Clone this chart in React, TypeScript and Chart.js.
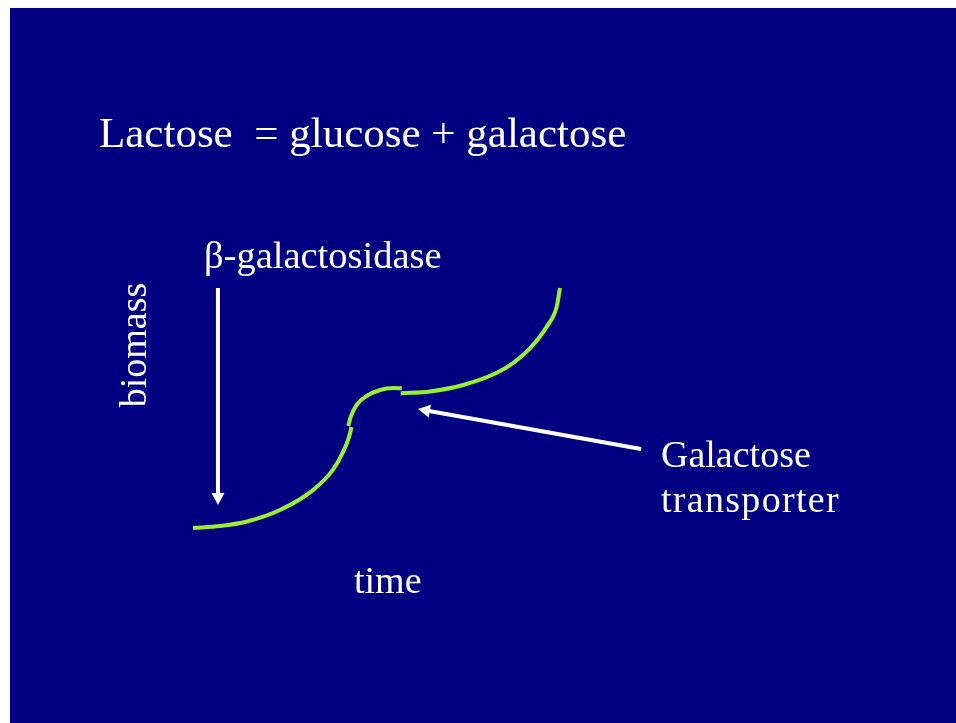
import React, { useEffect, useRef } from "react";
import { Chart, registerables } from "chart.js";

Chart.register(...registerables);

// Growth curve (arbitrary units: time 0–10, biomass 0–10)
const glucosePhaseTime = [0, 0.74, 1.47, 2.37, 3.27, 3.81, 4.09, 4.25, 4.32];
const glucosePhaseBiomass = [0, 0.08, 0.27, 0.75, 1.58, 2.42, 3.17, 3.79, 4.21];

const shiftPhaseTime = [4.23, 4.3, 4.46, 4.73, 5.1, 5.46, 5.69];
const shiftPhaseBiomass = [4.25, 4.64, 5.13, 5.5, 5.75, 5.83, 5.82];

const galactosePhaseTime = [5.66, 6.46, 7.36, 8.28, 8.73, 9.18, 9.64, 9.91, 10];
const galactosePhaseBiomass = [5.61, 5.69, 5.96, 6.47, 6.88, 7.48, 8.39, 9.22, 10];

// Arrows in data units: [fromTime, fromBiomass, toTime, toBiomass]
const enzymeArrow = [0.68, 10, 0.68, 0.96];
const transporterArrow = [12.21, 3.29, 6.13, 4.96];

// Texts
const titleText = "Lactose  = glucose + galactose";
const enzymeLabel = "β-galactosidase";
const yAxisLabel = "biomass";
const xAxisLabel = "time";
const transporterLabel = ["Galactose", "transporter"];

const NAVY = "#000080";
const CURVE = "#99f033";
const FONT = '"Liberation Serif", "Times New Roman", serif';

function toPoints(xs: number[], ys: number[]) {
  return xs.map((x, i) => ({ x, y: ys[i] }));
}

const annotationPlugin = {
  id: "slideAnnotations",
  afterDatasetsDraw(chart: any) {
    const ctx = chart.ctx as CanvasRenderingContext2D;
    const xs = chart.scales.x;
    const ys = chart.scales.y;

    const drawArrow = (a: number[]) => {
      const x1 = xs.getPixelForValue(a[0]);
      const y1 = ys.getPixelForValue(a[1]);
      const x2 = xs.getPixelForValue(a[2]);
      const y2 = ys.getPixelForValue(a[3]);
      const ang = Math.atan2(y2 - y1, x2 - x1);
      const headLen = 12;
      const headHalf = 6.5;
      const bx = x2 - headLen * Math.cos(ang);
      const by = y2 - headLen * Math.sin(ang);
      ctx.save();
      ctx.strokeStyle = "#ffffff";
      ctx.fillStyle = "#ffffff";
      ctx.lineWidth = 4;
      ctx.beginPath();
      ctx.moveTo(x1, y1);
      ctx.lineTo(bx + 2 * Math.cos(ang), by + 2 * Math.sin(ang));
      ctx.stroke();
      ctx.beginPath();
      ctx.moveTo(x2, y2);
      ctx.lineTo(bx + headHalf * Math.sin(ang), by - headHalf * Math.cos(ang));
      ctx.lineTo(bx - headHalf * Math.sin(ang), by + headHalf * Math.cos(ang));
      ctx.closePath();
      ctx.fill();
      ctx.restore();
    };

    drawArrow(enzymeArrow);
    drawArrow(transporterArrow);

    ctx.save();
    ctx.fillStyle = "#ffffff";
    ctx.textBaseline = "alphabetic";
    ctx.textAlign = "left";

    ctx.font = `43px ${FONT}`;
    ctx.fillText(titleText, 89, 139);

    ctx.font = `38.5px ${FONT}`;
    ctx.fillText(enzymeLabel, 194, 260);
    ctx.font = `38px ${FONT}`;
    ctx.fillText(xAxisLabel, 344, 585);
    ctx.fillText(transporterLabel[0], 651, 459);
    (ctx as any).letterSpacing = "1.3px";
    ctx.fillText(transporterLabel[1], 651, 504);
    (ctx as any).letterSpacing = "0px";

    ctx.save();
    ctx.translate(136, 337);
    ctx.rotate(-Math.PI / 2);
    ctx.textAlign = "center";
    ctx.fillText(yAxisLabel, 0, 0);
    ctx.restore();

    ctx.restore();
  },
};

export default function App() {
  const canvasRef = useRef<HTMLCanvasElement | null>(null);

  useEffect(() => {
    if (!canvasRef.current) return;
    const lineStyle = {
      showLine: true,
      borderColor: CURVE,
      borderWidth: 4,
      pointRadius: 0,
      pointHoverRadius: 0,
      cubicInterpolationMode: "monotone" as const,
      clip: false as any,
      fill: false,
    };
    const chart = new Chart(canvasRef.current, {
      type: "scatter",
      data: {
        datasets: [
          { label: "glucose", data: toPoints(glucosePhaseTime, glucosePhaseBiomass), ...lineStyle },
          { label: "shift", data: toPoints(shiftPhaseTime, shiftPhaseBiomass), ...lineStyle },
          { label: "galactose", data: toPoints(galactosePhaseTime, galactosePhaseBiomass), ...lineStyle },
        ],
      },
      options: {
        animation: false,
        responsive: false,
        events: [],
        layout: { padding: { left: 183, right: 396, top: 280, bottom: 195 } },
        scales: {
          x: { type: "linear", min: 0, max: 10, display: false },
          y: { type: "linear", min: 0, max: 10, display: false },
        },
        plugins: {
          legend: { display: false },
          tooltip: { enabled: false },
          title: { display: false },
        },
      },
      plugins: [annotationPlugin],
    });
    return () => chart.destroy();
  }, []);

  return (
    <div
      style={{
        position: "fixed",
        left: 10,
        top: 8,
        width: 946,
        height: 715,
        background: NAVY,
      }}
    >
      <canvas ref={canvasRef} width={946} height={715} style={{ display: "block" }} />
    </div>
  );
}
